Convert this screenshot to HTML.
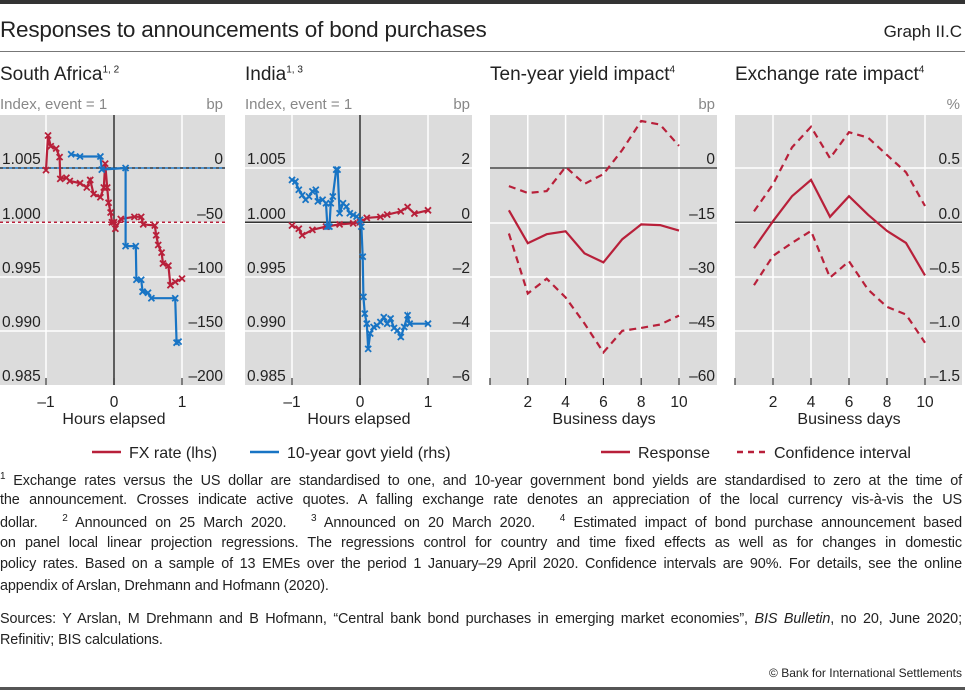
<!DOCTYPE html>
<html><head><meta charset="utf-8"><style>
body{margin:0;width:965px;height:690px;background:#fff;position:relative;overflow:hidden;font-family:"Liberation Sans",sans-serif;color:#222}
.a{position:absolute;white-space:nowrap}
.fn{position:absolute;left:0;width:962px;font-size:14.4px;text-align:justify;text-align-last:justify;white-space:nowrap;letter-spacing:-0.1px}
.fn.l{text-align-last:left}
sup{font-size:10px}
</style></head><body>
<div class="a" style="left:0;top:0;width:965px;height:4px;background:#333"></div>
<div class="a" style="left:0;top:17px;font-size:22.5px;letter-spacing:-0.2px">Responses to announcements of bond purchases</div>
<div class="a" style="right:3px;top:22px;font-size:17px">Graph II.C</div>
<div class="a" style="left:0;top:51px;width:965px;height:1px;background:#777"></div>
<div class="a" style="left:0;top:64px;font-size:19px">South Africa<sup>1, 2</sup></div>
<div class="a" style="left:245px;top:64px;font-size:19px">India<sup>1, 3</sup></div>
<div class="a" style="left:490px;top:64px;font-size:19px">Ten-year yield impact<sup>4</sup></div>
<div class="a" style="left:735px;top:64px;font-size:19px">Exchange rate impact<sup>4</sup></div>
<svg id="c" width="965" height="470" style="position:absolute;left:0;top:0" font-family="Liberation Sans, sans-serif"></svg>
<div class="fn" style="top:471px"><sup>1</sup> Exchange rates versus the US dollar are standardised to one, and 10-year government bond yields are standardised to zero at the time of</div>
<div class="fn" style="top:492px">the announcement. Crosses indicate active quotes. A falling exchange rate denotes an appreciation of the local currency vis-à-vis the US</div>
<div class="fn" style="top:513px">dollar. &nbsp; <sup>2</sup> Announced on 25 March 2020. &nbsp; <sup>3</sup> Announced on 20 March 2020. &nbsp; <sup>4</sup> Estimated impact of bond purchase announcement based</div>
<div class="fn" style="top:535px">on panel local linear projection regressions. The regressions control for country and time fixed effects as well as for changes in domestic</div>
<div class="fn" style="top:556px">policy rates. Based on a sample of 13 EMEs over the period 1 January–29 April 2020. Confidence intervals are 90%. For details, see the online</div>
<div class="fn l" style="top:578px">appendix of Arslan, Drehmann and Hofmann (2020).</div>
<div class="fn" style="top:611px">Sources: Y Arslan, M Drehmann and B Hofmann, “Central bank bond purchases in emerging market economies”, <i>BIS Bulletin</i>, no 20, June 2020;</div>
<div class="fn l" style="top:632px">Refinitiv; BIS calculations.</div>
<div class="a" style="right:3px;top:666px;font-size:12px">© Bank for International Settlements</div>
<div class="a" style="left:0;top:687px;width:965px;height:3px;background:#555"></div>
<script>
// South Africa data
const saFxT=[-1.0,-0.97,-0.93,-0.85,-0.8,-0.79,-0.7,-0.65,-0.5,-0.4,-0.35,-0.3,-0.2,-0.15,-0.13,-0.1,-0.08,-0.05,-0.03,0,0.02,0.1,0.3,0.4,0.43,0.6,0.62,0.65,0.7,0.72,0.8,0.83,0.9,1.0];
const saFxV=[1.0048,1.0080,1.0070,1.0068,1.0060,1.0040,1.0041,1.0038,1.0036,1.0032,1.0039,1.0026,1.0023,1.0032,1.0054,1.0032,1.0018,1.0009,1.0000,1.0000,0.9994,1.0003,1.0005,1.0005,0.9998,0.9997,0.9988,0.9979,0.9972,0.9962,0.9960,0.9942,0.9945,0.9948];
const saYT=[-0.63,-0.5,-0.2,-0.18,0.17,0.17,0.32,0.33,0.4,0.42,0.5,0.55,0.9,0.92,0.95];
const saYV=[12.7,10.6,10.6,-1.5,0,-72,-72,-103,-103,-114,-115,-120,-120,-161,-160];
// India data
const inFxT=[-1,-0.9,-0.85,-0.7,-0.5,-0.3,-0.1,0,0.1,0.3,0.4,0.6,0.7,0.8,1.0];
const inFxV=[0.9997,0.9994,0.9988,0.9993,0.9996,0.9998,0.9999,1.0,1.0004,1.0005,1.0007,1.001,1.0014,1.0008,1.0011];
const inYT=[-1,-0.95,-0.9,-0.85,-0.8,-0.75,-0.7,-0.65,-0.62,-0.55,-0.5,-0.48,-0.45,-0.43,-0.4,-0.35,-0.33,-0.3,-0.25,-0.2,-0.15,-0.1,-0.05,0,0.02,0.04,0.05,0.07,0.1,0.12,0.15,0.2,0.25,0.3,0.35,0.4,0.45,0.5,0.55,0.6,0.65,0.7,0.73,1.0];
const inYV=[1.56,1.5,1.2,1.0,0.83,0.95,1.14,1.2,0.77,0.83,0.7,-0.16,-0.16,0.7,0.95,1.94,1.94,0.33,0.7,0.58,0.33,0.27,0.21,0.09,-0.16,-1.27,-2.75,-3.37,-3.74,-4.67,-4.1,-3.86,-3.8,-3.68,-3.5,-3.74,-3.55,-3.9,-3.99,-4.23,-3.86,-3.43,-3.74,-3.74];
// Impact panels
const days=[1,2,3,4,5,6,7,8,9,10];
const yResp=[-11.7,-20.8,-18.3,-17.5,-23.6,-26.1,-19.7,-15.6,-15.8,-17.3];
const yUp=[-5.0,-6.9,-6.4,0.3,-4.4,-1.7,5,13,12,6.1];
const yLo=[-18.1,-34.7,-30.6,-35.8,-43,-51,-45,-44.2,-43.3,-40.8];
const fResp=[-0.24,0.01,0.24,0.39,0.05,0.24,0.07,-0.08,-0.19,-0.49];
const fUp=[0.10,0.35,0.69,0.88,0.59,0.83,0.78,0.62,0.46,0.15];
const fLo=[-0.58,-0.31,-0.19,-0.08,-0.51,-0.36,-0.62,-0.78,-0.85,-1.11];
const saL=['1.005','1.000','0.995','0.990','0.985'], saR=['0','–50','–100','–150','–200'];
const inL=['1.005','1.000','0.995','0.990','0.985'], inR=['2','0','–2','–4','–6'];
const yR=['0','–15','–30','–45','–60'], fR=['0.5','0.0','–0.5','–1.0','–1.5'];
const hourTicks=[-1,0,1], dayTicks=[2,4,6,8,10];

const RED='#b8203a', BLUE='#1874c4';
const svg=document.getElementById('c');
const NS='http://www.w3.org/2000/svg';
function el(tag,attrs,parent){const e=document.createElementNS(NS,tag);for(const k in attrs)e.setAttribute(k,attrs[k]);(parent||svg).appendChild(e);return e;}
const TOP=115,BOT=385,GY=[168,223,277,331,385];
function lin(d0,d1,r0,r1){return v=>r0+(v-d0)*(r1-r0)/(d1-d0);}

function panel(name,x0,x1,xs,xTicks,xLabs,hz,yl,yr,unitL,unitR,xtitle,vgrid,titleX){
  const g=el('g',{});
  
  
  const bg=el('rect',{x:x0,y:TOP,width:x1-x0,height:BOT-TOP,fill:'#dcdcdc'},g);
  
  
  GY.forEach((y,i)=>{if(i<4)el('line',{x1:x0,x2:x1,y1:y,y2:y,stroke:'#fff','stroke-width':1.5},g);});
  vgrid.forEach(t=>el('line',{x1:xs(t),x2:xs(t),y1:TOP,y2:BOT,stroke:'#fff','stroke-width':1.5},g));
  xTicks.forEach((t,i)=>{
    el('line',{x1:xs(t),x2:xs(t),y1:BOT-7,y2:BOT,stroke:'#333','stroke-width':1.2},g);
    const tx=el('text',{x:xs(t),y:BOT+22,'font-size':15.5,'text-anchor':'middle',fill:'#222'},g);
    tx.textContent=xLabs[i];
    
    
  });
  if(hz) el('line',{x1:x0,x2:x0,y1:BOT-7,y2:BOT,stroke:'#333','stroke-width':1.2},g);
  GY.forEach((y,i)=>{
    if(yl){const t=el('text',{x:x0+2,y:y-4,'font-size':15.5,fill:'#222'},g);t.textContent=yl[i];
      }
    const t2=el('text',{x:x1-2,y:y-4,'font-size':15.5,'text-anchor':'end',fill:'#222'},g);t2.textContent=yr[i];
    
  });
  if(unitL){const u=el('text',{x:x0,y:109,'font-size':15,fill:'#888'},g);u.textContent=unitL;
    }
  const u2=el('text',{x:x1-2,y:109,'font-size':15,'text-anchor':'end',fill:'#888'},g);u2.textContent=unitR;
  
  const xt=el('text',{x:titleX,y:424,'font-size':16,'text-anchor':'middle',fill:'#222'},g);xt.textContent=xtitle;
  
  return g;
}
function series(g,name,xs,ys,T,V,color,dash,marks){
  const pts=T.map((t,i)=>xs(t).toFixed(1)+','+ys(V[i]).toFixed(1)).join(' ');
  const p=el('polyline',{points:pts,fill:'none',stroke:color,'stroke-width':2.2,'stroke-dasharray':dash||'none'},g);
  
  
  if(marks){T.forEach((t,i)=>{const x=xs(t),y=ys(V[i]);
    el('path',{d:`M${x-3},${y-3}L${x+3},${y+3}M${x-3},${y+3}L${x+3},${y-3}`,stroke:color,'stroke-width':1.8},g);});}
}
// Panel 1
const x1s=lin(-1,1,46,182), y1l=lin(1.005,0.985,168,385), y1r=lin(0,-200,168,385);
const g1=panel('south-africa-panel',0,225,x1s,hourTicks,['–1','0','1'],false,saL,saR,'Index, event = 1','bp','Hours elapsed',[-1,1],114);
el('line',{x1:0,x2:225,y1:y1l(1.0),y2:y1l(1.0),stroke:RED,'stroke-width':1.5,'stroke-dasharray':'3,3'},g1);
el('line',{x1:0,x2:225,y1:y1r(0),y2:y1r(0),stroke:BLUE,'stroke-width':1.5},g1);
el('line',{x1:0,x2:225,y1:y1r(0),y2:y1r(0),stroke:'#444','stroke-width':1.5,'stroke-dasharray':'3,3'},g1);
el('line',{x1:x1s(0),x2:x1s(0),y1:TOP,y2:BOT,stroke:'#333','stroke-width':1.5},g1);
series(g1,'sa-fx-rate-line',x1s,y1l,saFxT,saFxV,RED,null,true);
series(g1,'sa-yield-line',x1s,y1r,saYT,saYV,BLUE,null,true);
// Panel 2
const x2s=lin(-1,1,292,428), y2l=lin(1.005,0.985,168,385), y2r=lin(2,-6,168,385);
const g2=panel('india-panel',245,472,x2s,hourTicks,['–1','0','1'],false,inL,inR,'Index, event = 1','bp','Hours elapsed',[-1,1],359);
el('line',{x1:245,x2:472,y1:y2l(1.0),y2:y2l(1.0),stroke:'#333','stroke-width':1.5},g2);
el('line',{x1:x2s(0),x2:x2s(0),y1:TOP,y2:BOT,stroke:'#333','stroke-width':1.5},g2);
series(g2,'india-fx-rate-line',x2s,y2l,inFxT,inFxV,RED,null,true);
series(g2,'india-yield-line',x2s,y2r,inYT,inYV,BLUE,null,true);
// Panel 3
const x3s=lin(0,10,490,679), y3=lin(0,-60,168,385);
const g3=panel('yield-impact-panel',490,717,x3s,dayTicks,['2','4','6','8','10'],true,null,yR,null,'bp','Business days',dayTicks,604);
el('line',{x1:490,x2:717,y1:y3(0),y2:y3(0),stroke:'#444','stroke-width':1.5},g3);
series(g3,'yield-response-line',x3s,y3,days,yResp,RED);
series(g3,'yield-ci-upper',x3s,y3,days,yUp,RED,'7,5');
series(g3,'yield-ci-lower',x3s,y3,days,yLo,RED,'7,5');
// Panel 4
const x4s=lin(0,10,735,925), y4=lin(0.5,-1.5,168,385);
const g4=panel('fx-impact-panel',735,962,x4s,dayTicks,['2','4','6','8','10'],true,null,fR,null,'%','Business days',dayTicks,849);
el('line',{x1:735,x2:962,y1:y4(0),y2:y4(0),stroke:'#444','stroke-width':1.5},g4);
series(g4,'fx-response-line',x4s,y4,days,fResp,RED);
series(g4,'fx-ci-upper',x4s,y4,days,fUp,RED,'7,5');
series(g4,'fx-ci-lower',x4s,y4,days,fLo,RED,'7,5');
// Legends
function leg(name,x,label,color,dash){
  const g=el('g',{});
  
  
  el('line',{x1:x,x2:x+29,y1:452,y2:452,stroke:color,'stroke-width':2.5,'stroke-dasharray':dash||'none'},g);
  const t=el('text',{x:x+37,y:458,'font-size':16,fill:'#222'},g);t.textContent=label;
}
leg('legend-fx-rate',92,'FX rate (lhs)',RED);
leg('legend-yield',250,'10-year govt yield (rhs)',BLUE);
leg('legend-response',601,'Response',RED);
leg('legend-confidence-interval',737,'Confidence interval',RED,'6,5');
</script>
</body></html>
